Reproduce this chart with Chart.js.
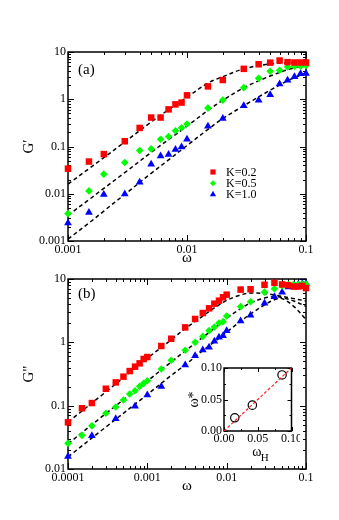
<!DOCTYPE html>
<html>
<head>
<meta charset="utf-8">
<script src="https://cdn.jsdelivr.net/npm/chart.js@4.4.1/dist/chart.umd.min.js"></script>
<style>
  html, body { margin: 0; padding: 0; background: #fff; }
  #wrap { position: relative; width: 339px; height: 520px; overflow: hidden; }
  canvas { position: absolute; }
</style>
</head>
<body>
<div id="wrap">
  <canvas id="chart-a" width="339" height="268" style="left:0;top:0"></canvas>
  <canvas id="chart-b" width="339" height="234" style="left:0;top:262px"></canvas>
  <canvas id="chart-inset" width="130" height="112" style="left:170px;top:355px"></canvas>
</div>
<script>
// panel (a): storage modulus G'
const omegaA = [0.001, 0.0015, 0.002, 0.003, 0.004, 0.005, 0.006, 0.007, 0.008, 0.009, 0.01,
                0.015, 0.02, 0.03, 0.04, 0.05, 0.06, 0.07, 0.08, 0.09, 0.1];
const gpK02 = [0.034, 0.048, 0.069, 0.129, 0.247, 0.41, 0.41, 0.61, 0.78, 0.85, 1.21,
               1.87, 2.55, 4.4, 5.5, 5.95, 6.6, 6.1, 6.0, 6.0, 6.0];
const gpK05 = [0.0038, 0.0115, 0.026, 0.046, 0.082, 0.089, 0.142, 0.162, 0.216, 0.25, 0.30,
               0.65, 0.96, 1.76, 2.77, 3.9, 4.1, 4.8, 5.0, 5.0, 5.2];
const gpK10 = [0.0024, 0.004, 0.0096, 0.0099, 0.0175, 0.042, 0.063, 0.068, 0.086, 0.098, 0.142,
               0.267, 0.39, 0.73, 0.95, 1.25, 2.1, 2.52, 3.0, 3.45, 3.5];

const fitOmegaA = [0.001, 0.0015, 0.002, 0.003, 0.005, 0.007, 0.01, 0.015, 0.02, 0.03, 0.05, 0.07, 0.1];
const fitA02 = [0.016, 0.034, 0.058, 0.125, 0.33, 0.6, 1.1, 2.2, 3.0, 4.4, 5.6, 5.9, 6.1];
const fitA05 = [0.0035, 0.0075, 0.013, 0.028, 0.075, 0.14, 0.27, 0.58, 0.95, 1.75, 3.1, 4.2, 5.3];
const fitA10 = [0.0011, 0.0024, 0.0043, 0.0097, 0.027, 0.052, 0.105, 0.23, 0.39, 0.73, 1.55, 2.45, 3.6];

// panel (b): loss modulus G''
const omegaB = [0.0001, 0.00015, 0.0002, 0.0003, 0.0004, 0.0005, 0.0006, 0.0007, 0.0008, 0.0009,
                0.001, 0.0015, 0.002, 0.003, 0.004, 0.005, 0.006, 0.007, 0.008, 0.009,
                0.01, 0.015, 0.02, 0.03, 0.04, 0.05, 0.06, 0.07, 0.08, 0.09, 0.1];
const gppK02 = [0.0545, 0.091, 0.11, 0.185, 0.233, 0.287, 0.352, 0.413, 0.466, 0.546,
                0.586, 0.875, 1.14, 1.72, 2.34, 2.9, 3.44, 4.08, 4.55, 5.14,
                5.66, 6.8, 6.9, 8.1, 8.7, 8.2, 8.0, 7.6, 7.6, 7.8, 7.2];
const gppK05 = [0.0254, 0.034, 0.048, 0.0757, 0.0953, 0.123, 0.153, 0.172, 0.202, 0.225,
                0.248, 0.379, 0.52, 0.748, 1.0, 1.24, 1.53, 1.75, 2.02, 2.12,
                2.6, 3.66, 4.38, 6.2, 7.0, 7.8, 8.2, 8.2, 8.2, 8.3, 8.3];
const omegaB10 = [0.0001, 0.0002, 0.0004, 0.0007, 0.001, 0.0015, 0.003, 0.004, 0.005, 0.006,
                  0.007, 0.008, 0.009, 0.01, 0.015, 0.02, 0.03, 0.04, 0.05, 0.06, 0.07, 0.08, 0.09, 0.1];
const gppK10 = [0.0157, 0.0336, 0.0623, 0.0976, 0.147, 0.2, 0.438, 0.615, 0.757, 0.834,
                1.04, 1.2, 1.27, 1.53, 2.17, 2.67, 4.13, 5.26, 6.2, 7.5, 8.0, 8.3, 8.5, 8.5];

const fitOmegaB = [0.0001, 0.0003, 0.001, 0.002, 0.003, 0.005, 0.007, 0.01, 0.015, 0.02, 0.03, 0.04, 0.05, 0.07, 0.1];
const fitB02 = [0.055, 0.165, 0.56, 1.1, 1.65, 2.6, 3.5, 4.6, 5.6, 6.0, 5.9, 5.6, 5.3, 4.9, 4.5];
const fitB05 = [0.025, 0.075, 0.245, 0.49, 0.73, 1.2, 1.67, 2.4, 3.4, 4.2, 5.0, 5.25, 5.1, 4.5, 3.7];
const fitB10 = [0.0155, 0.046, 0.15, 0.3, 0.44, 0.74, 1.02, 1.45, 2.15, 2.8, 3.9, 4.7, 4.9, 3.7, 2.3];

// inset: omega* vs omega_H
const omegaH    = [0.016, 0.042, 0.086];
const omegaStar = [0.021, 0.041, 0.089];
const guideX = [0, 0.1];
const guideY = [0, 0.1];

const seriesLabels = ['K=0.2', 'K=0.5', 'K=1.0'];
const tickA_x = [0.001, 0.01, 0.1];

const SERIF = "'Liberation Serif', 'DejaVu Serif', serif";
const RED = '#ff0000', GREEN = '#00ff00', BLUE = '#0000ff';

const pts = (xs, ys) => xs.map((x, i) => ({ x, y: ys[i] }));

function isDecade(v) {
  const l = Math.log10(v);
  return Math.abs(l - Math.round(l)) < 1e-6;
}
function fmtDecade(v) {
  const e = Math.round(Math.log10(v));
  return e >= 0 ? String(Math.round(v)) : v.toFixed(-e);
}
function logTicks(min, max) {
  const out = [];
  for (let e = Math.floor(Math.log10(min)); e <= Math.ceil(Math.log10(max)); e++) {
    for (let k = 1; k <= 9; k++) {
      const v = Number((k * Math.pow(10, e)).toPrecision(6));
      if (v >= min * 0.9999 && v <= max * 1.0001) out.push(v);
    }
  }
  return out;
}

// frame + inward ticks on all four sides (grace style)
const frameTicks = {
  id: 'frameTicks',
  beforeDatasetsDraw(chart, args, opts) {
    const { ctx, chartArea: a, scales } = chart;
    ctx.save();
    ctx.fillStyle = '#fff';
    if (opts.fill) ctx.fillRect(a.left, a.top, a.width, a.height);
    ctx.strokeStyle = '#000';
    ctx.lineWidth = 1;
    scales.x.ticks.forEach(t => {
      const len = t.label ? opts.major : opts.minor;
      const px = Math.round(scales.x.getPixelForValue(t.value)) + 0.5;
      ctx.beginPath();
      ctx.moveTo(px, a.bottom); ctx.lineTo(px, a.bottom - len);
      ctx.moveTo(px, a.top);    ctx.lineTo(px, a.top + len);
      ctx.stroke();
    });
    scales.y.ticks.forEach(t => {
      const len = t.label ? opts.major : opts.minor;
      const py = Math.round(scales.y.getPixelForValue(t.value)) + 0.5;
      ctx.beginPath();
      ctx.moveTo(a.left, py);  ctx.lineTo(a.left + len, py);
      ctx.moveTo(a.right, py); ctx.lineTo(a.right - len, py);
      ctx.stroke();
    });
    ctx.lineWidth = opts.frame;
    ctx.strokeRect(a.left, a.top, a.width, a.height);
    ctx.restore();
  }
};

// panel label + in-plot legend
const annotations = {
  id: 'annotations',
  afterDatasetsDraw(chart, args, opts) {
    const { ctx, chartArea: a } = chart;
    ctx.save();
    ctx.fillStyle = '#000';
    ctx.textBaseline = 'middle';
    if (opts.panel) {
      ctx.font = '15px ' + SERIF;
      ctx.textAlign = 'left';
      ctx.fillText(opts.panel, a.left + opts.panelDx, a.top + opts.panelDy);
    }
    if (opts.legend) {
      ctx.font = '12px ' + SERIF;
      let row = 0;
      chart.data.datasets.forEach(ds => {
        if (ds.showLine !== false) return;
        const y = a.top + opts.legendDy + row * 11.2;
        const x = a.left + opts.legendDx;
        ctx.fillStyle = ds.backgroundColor;
        Chart.helpers.drawPoint(ctx, { pointStyle: ds.pointStyle, radius: ds.pointRadius * 0.8, rotation: 0, borderWidth: 0 }, x, y);
        ctx.fillStyle = '#000';
        ctx.fillText(ds.label, x + 13, y + 0.5);
        row++;
      });
    }
    if (opts.subTitle) {
      const cx = (a.left + a.right) / 2;
      ctx.font = '14px ' + SERIF;
      ctx.textAlign = 'center';
      ctx.fillText('\u03c9', cx - 1, a.bottom + 21);
      ctx.font = '11px ' + SERIF;
      ctx.fillText('H', cx + 7, a.bottom + 27);
    }
    ctx.restore();
  }
};

function logAxis(min, max, title, axisSize, isX) {
  return {
    type: 'logarithmic',
    min, max,
    grid: { display: false, drawTicks: false },
    border: { display: false },
    afterBuildTicks: s => { s.ticks = logTicks(min, max).map(v => ({ value: v })); },
    afterFit: s => {
      if (isX) { s.height = axisSize; s.paddingLeft = 0; s.paddingRight = 0; }
      else { s.width = axisSize; s.paddingTop = 0; s.paddingBottom = 0; }
    },
    ticks: {
      autoSkip: false, maxRotation: 0, padding: 2,
      color: '#000', font: { family: SERIF, size: 12 },
      callback: v => isDecade(v) ? fmtDecade(v) : '',
    },
    title: {
      display: true, text: title, color: '#000',
      font: { family: SERIF, size: isX ? 15 : 15 },
      padding: isX ? { top: 0, bottom: 1 } : { top: 10, bottom: 0 },
    },
  };
}

function scatterSet(label, xs, ys, color, style, r) {
  return {
    type: 'line', label, data: pts(xs, ys), showLine: false,
    pointStyle: style, pointRadius: r, pointHoverRadius: r,
    backgroundColor: color, borderColor: color, pointBorderWidth: 0,
    clip: 8,
  };
}
function fitSet(xs, ys) {
  return {
    type: 'line', label: '', data: pts(xs, ys), showLine: true,
    borderColor: '#000', borderWidth: 1.5, borderDash: [4, 3],
    pointRadius: 0, tension: 0.35, fill: false, clip: 4,
  };
}

const common = {
  responsive: false,
  animation: false,
  events: [],
  plugins: { legend: { display: false }, tooltip: { enabled: false } },
};

new Chart(document.getElementById('chart-a'), {
  type: 'scatter',
  data: {
    datasets: [
      scatterSet(seriesLabels[0], omegaA, gpK02, RED, 'rect', 4.6),
      scatterSet(seriesLabels[1], omegaA, gpK05, GREEN, 'rectRot', 3.8),
      scatterSet(seriesLabels[2], omegaA, gpK10, BLUE, 'triangle', 4.5),
      fitSet(fitOmegaA, fitA02),
      fitSet(fitOmegaA, fitA05),
      fitSet(fitOmegaA, fitA10),
    ],
  },
  options: {
    ...common,
    layout: { padding: { left: 10, right: 33, top: 52, bottom: 0 } },
    scales: {
      x: logAxis(0.001, 0.1, '\u03c9', 27, true),
      y: logAxis(0.001, 10, 'G\u2032', 58, false),
    },
    plugins: {
      ...common.plugins,
      frameTicks: { major: 6, minor: 3, frame: 1.5 },
      annotations: { panel: '(a)', panelDx: 10, panelDy: 18, legend: true, legendDx: 145, legendDy: 120 },
    },
  },
  plugins: [frameTicks, annotations],
});

new Chart(document.getElementById('chart-b'), {
  type: 'scatter',
  data: {
    datasets: [
      scatterSet(seriesLabels[0], omegaB, gppK02, RED, 'rect', 4.6),
      scatterSet(seriesLabels[1], omegaB, gppK05, GREEN, 'rectRot', 3.8),
      scatterSet(seriesLabels[2], omegaB10, gppK10, BLUE, 'triangle', 4.5),
      fitSet(fitOmegaB, fitB02),
      fitSet(fitOmegaB, fitB05),
      fitSet(fitOmegaB, fitB10),
    ],
  },
  options: {
    ...common,
    layout: { padding: { left: 10, right: 33, top: 17, bottom: 0 } },
    scales: {
      x: logAxis(0.0001, 0.1, '\u03c9', 27, true),
      y: logAxis(0.01, 10, 'G"', 58, false),
    },
    plugins: {
      ...common.plugins,
      frameTicks: { major: 6, minor: 3, frame: 1.5 },
      annotations: { panel: '(b)', panelDx: 10, panelDy: 15 },
    },
  },
  plugins: [frameTicks, annotations],
});

function linAxis(title, axisSize, isX) {
  return {
    type: 'linear', min: 0, max: 0.1,
    grid: { display: false, drawTicks: false },
    border: { display: false },
    afterFit: s => {
      if (isX) { s.height = axisSize; s.paddingLeft = 0; s.paddingRight = 0; }
      else { s.width = axisSize; s.paddingTop = 0; s.paddingBottom = 0; }
    },
    ticks: {
      stepSize: 0.025, autoSkip: false, maxRotation: 0, padding: isX ? 1 : 2,
      color: '#000', font: { family: SERIF, size: 12 },
      callback: v => Math.abs(v / 0.05 - Math.round(v / 0.05)) < 1e-6 ? v.toFixed(2) : '',
    },
    title: {
      display: !!title, text: title, color: '#000',
      font: { family: SERIF, size: 14 },
      padding: { top: 8, bottom: 0 },
    },
  };
}

new Chart(document.getElementById('chart-inset'), {
  type: 'scatter',
  data: {
    datasets: [
      {
        type: 'line', label: '', data: pts(guideX, guideY), showLine: true,
        borderColor: '#ff2020', borderWidth: 1.2, borderDash: [3, 2],
        pointRadius: 0, fill: false,
      },
      {
        type: 'line', label: '', data: pts(omegaH, omegaStar), showLine: false,
        pointStyle: 'circle', pointRadius: 4.2, pointHoverRadius: 4.2,
        pointBorderWidth: 1.2, borderColor: '#000', backgroundColor: 'rgba(0,0,0,0)',
        clip: 8,
      },
    ],
  },
  options: {
    ...common,
    layout: { padding: { left: 8, right: 8.5, top: 13, bottom: 0 } },
    scales: {
      x: linAxis('', 36, true),
      y: linAxis('\u03c9*', 46, false),
    },
    plugins: {
      ...common.plugins,
      frameTicks: { major: 4, minor: 2, frame: 1.5, fill: true },
      annotations: { subTitle: true },
    },
  },
  plugins: [frameTicks, annotations],
});
</script>
</body>
</html>
